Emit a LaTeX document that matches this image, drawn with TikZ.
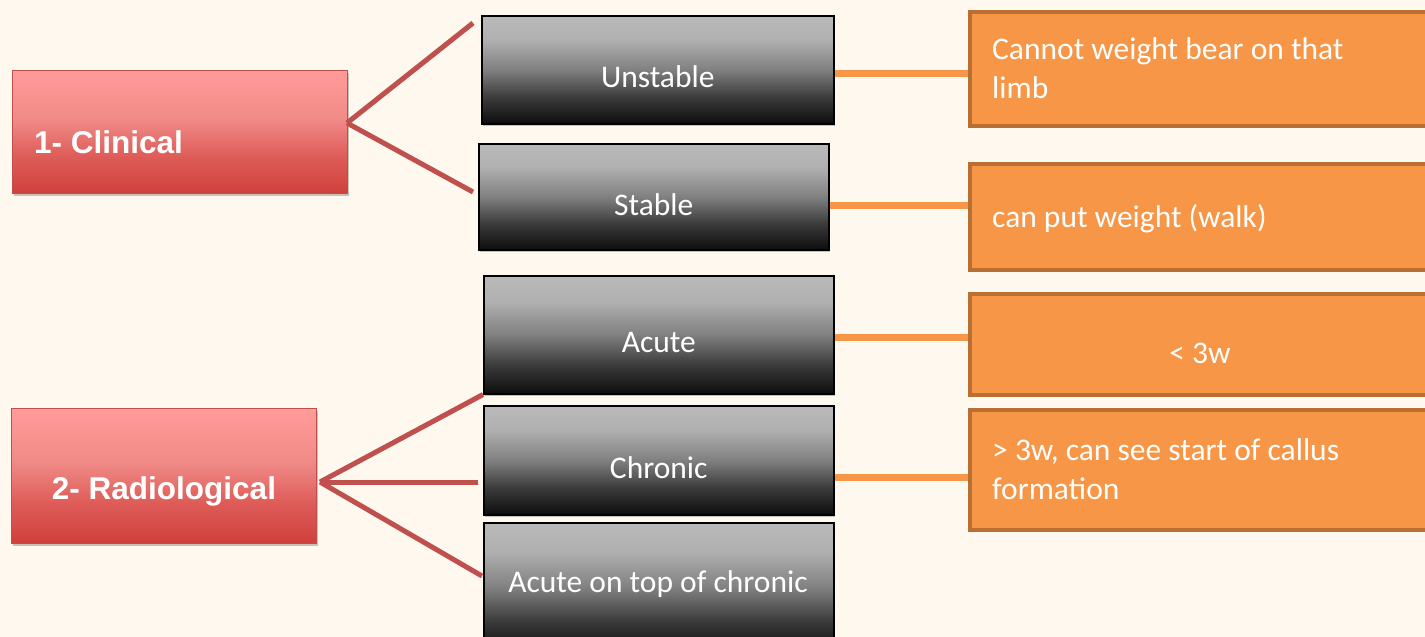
\documentclass[tikz,border=0pt]{standalone}
\usepackage{fontspec}
\setmainfont{Carlito}
\newfontfamily\arialfont{Liberation Sans}
\usetikzlibrary{shadows,calc}
\definecolor{bg}{HTML}{FEF8EE}
\definecolor{redline}{HTML}{C0504D}
\definecolor{redborder}{HTML}{C24E4B}
\definecolor{orfill}{HTML}{F79646}
\definecolor{orborder}{HTML}{B96F31}
\definecolor{rtop}{HTML}{FF9B99}
\definecolor{rmid}{HTML}{F08A87}
\definecolor{rlow}{HTML}{DE5C58}
\definecolor{rbot}{HTML}{CF403C}
\definecolor{gtop}{HTML}{BABABA}
\definecolor{gup}{HTML}{B0B0B0}
\definecolor{gmid}{HTML}{808080}
\definecolor{glow}{HTML}{3A3A3A}
\definecolor{gbot}{HTML}{0D0D0D}
\pgfdeclareverticalshading{grayshade}{100bp}{color(0bp)=(gbot); color(25bp)=(gbot); color(37bp)=(glow); color(50bp)=(gmid); color(64bp)=(gup); color(75bp)=(gtop); color(100bp)=(gtop)}
\pgfdeclareverticalshading{redshade}{100bp}{color(0bp)=(rbot); color(25bp)=(rbot); color(40bp)=(rlow); color(55bp)=(rmid); color(75bp)=(rtop); color(100bp)=(rtop)}
\tikzset{
  myshadow/.style={drop shadow={shadow xshift=1pt, shadow yshift=-2.5pt, opacity=.22, fill=black}},
  graybox/.style={draw=black, line width=1.5pt, shading=grayshade, anchor=north west, inner sep=0pt, myshadow},
  redbox/.style={draw=redborder, line width=1pt, shading=redshade, anchor=north west, inner sep=0pt, myshadow},
  orbox/.style={draw=orborder, fill=orfill, line width=4pt, anchor=north west, inner sep=0pt},
  gtext/.style={text=white, font=\fontsize{31.5}{38}\selectfont, anchor=base, inner sep=0pt},
  otext/.style={text=white, font=\fontsize{31.5}{38}\selectfont, anchor=base west, inner sep=0pt},
  rtext/.style={text=white, font=\arialfont\bfseries\fontsize{31.5}{38}\selectfont, inner sep=0pt},
  rline/.style={draw=redline, line width=5pt, preaction={draw=black, opacity=.15, transform canvas={shift={(1pt,-2pt)}}}},
  oline/.style={draw=orfill, line width=7pt, preaction={draw=black, opacity=.15, transform canvas={shift={(1pt,-2pt)}}}},
}
\begin{document}
\begin{tikzpicture}[x=1pt,y=-1pt]
\useasboundingbox (0,0) rectangle (1425,637);
\fill[bg] (0,0) rectangle (1425,637);
\clip (0,0) rectangle (1425,637);

% red category boxes
\node[redbox, minimum width=335pt, minimum height=123pt] (r1) at (12,70) {};
\node[rtext, anchor=base west] (tr1) at (34,153) {1- Clinical};
\node[redbox, minimum width=305pt, minimum height=135pt] (r2) at (11,408) {};
\node[rtext, anchor=base] (tr2) at (164,499) {2- Radiological};

% gray boxes
\node[graybox, minimum width=352pt, minimum height=108pt] (u) at (481,15) {};
\node[gtext] (tu) at ([yshift=-18pt]u.center) {Unstable};
\node[graybox, minimum width=350pt, minimum height=106pt] (s) at (478,143) {};
\node[gtext] (ts) at ([yshift=-19pt]s.center) {Stable};
\node[graybox, minimum width=350pt, minimum height=118pt] (a) at (483,275) {};
\node[gtext] (ta) at ([yshift=-18pt]a.center) {Acute};
\node[graybox, minimum width=350pt, minimum height=109pt] (c) at (483,405) {};
\node[gtext] (tc) at ([yshift=-18.5pt]c.center) {Chronic};
\node[graybox, minimum width=350pt, minimum height=130pt] (ac) at (483,522) {};
\node[gtext] (tac) at (658,592) {Acute on top of chronic};

% orange boxes
\node[orbox, minimum width=480pt, minimum height=114pt] (o1) at (968,10) {};
\node[otext] (to1a) at (992,59) {Cannot weight bear on that};
\node[otext] (to1b) at (992,98) {limb};
\node[orbox, minimum width=480pt, minimum height=106pt] (o2) at (968,162) {};
\node[otext] (to2) at (992,227) {can put weight (walk)};
\node[orbox, minimum width=480pt, minimum height=101pt] (o3) at (968,292) {};
\node[gtext] (to3) at (1200,363) {< 3w};
\node[orbox, minimum width=480pt, minimum height=120pt] (o4) at (968,408) {};
\node[otext] (to4a) at (992,460) {> 3w, can see start of callus};
\node[otext] (to4b) at (992,499) {formation};

% red connectors
\coordinate (b1) at (347,123);
\coordinate (e1) at (473,23);
\coordinate (e2) at (473,192);
\draw[rline] (b1) -- (e1);
\draw[rline] (b1) -- (e2);
\coordinate (b2) at (320,482);
\coordinate (e3) at (478,482);
\coordinate (e4) at (482,576);
\draw[rline] (b2) -- (a.south west);
\draw[rline] (b2) -- (e3);
\draw[rline] (b2) -- (e4);

% orange connectors
\draw[oline] ([yshift=-4pt]u.east) -- ([yshift=-4pt]u.east -| o1.west);
\draw[oline] ([yshift=-9pt]s.east) -- ([yshift=-9pt]s.east -| o2.west);
\draw[oline] ([yshift=-3pt]a.east) -- ([yshift=-3pt]a.east -| o3.west);
\draw[oline] ([yshift=-17.5pt]c.east) -- ([yshift=-17.5pt]c.east -| o4.west);
\end{tikzpicture}
\end{document}
